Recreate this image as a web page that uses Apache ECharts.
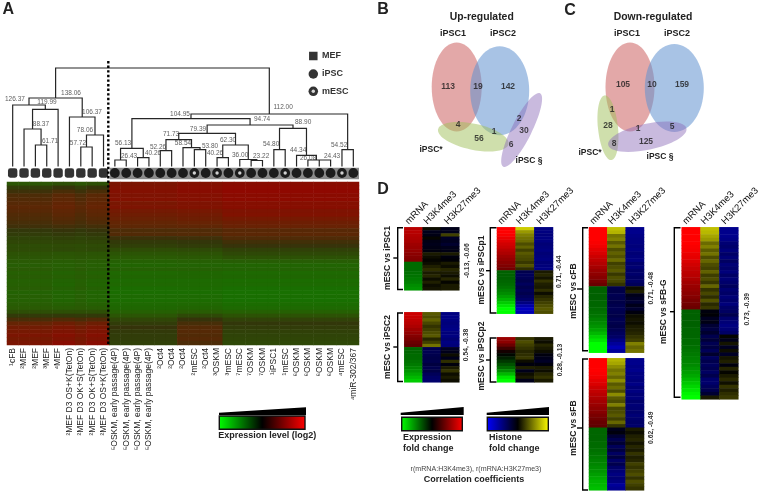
<!DOCTYPE html>
<html><head><meta charset="utf-8">
<script src="https://cdn.jsdelivr.net/npm/echarts@6/dist/echarts.min.js"></script>
<style>html,body{margin:0;padding:0;background:#fff}#c{width:760px;height:504px}</style>
</head><body><div id="c"></div>
<script>
// ---------- Panel A data ----------
const sampleLabels = ['¹cFB','²MEF','²MEF','³MEF','⁴MEF','²MEF D3 OS+K(TetOn)','²MEF D3 OK+S(TetOn)','²MEF D3 OK+S(TetOn)','²MEF D3 OS+K(TetOn)',
 '⁵OSKM, early passage(4P)','⁵OSKM, early passage(4P)','⁵OSKM, early passage(4P)','⁵OSKM, early passage(4P)',
 '²Oct4','²Oct4','²Oct4','²mESC','²Oct4','³OSKM','³mESC','⁷mESC','⁷OSKM','⁷OSKM','¹iPSC1','¹mESC','⁶OSKM','⁶OSKM','⁶OSKM','⁶OSKM','⁴mESC','⁴miR-302/367'];
const sampleKinds = ['s','s','s','s','s','s','s','s','s','c','c','c','c','c','c','c','e','c','e','c','e','c','c','c','e','c','c','c','c','e','c'];
// merge: id, left child, right child, drawn level
const dendroMerges = [['a',2,3,35],['b',1,'a',51],['c','b',4,70.7],['d',0,'c',75],['e',6,7,33],['f','e',8,45],['g',5,'f',63],['h','d','g',82],
 ['i',9,10,20],['j',11,12,22.3],['k','i','j',31.7],['l',13,14,29.3],['n',16,17,30.3],['o',15,'n',32.3],['m','l','o',40.3],
 ['r',18,19,22.3],['t',21,22,19.5],['s',20,'t',20.5],['q','r','s',35],['p','m','q',46.7],
 ['z',27,28,20],['y',26,'z',20],['x',25,'y',24.7],['w',23,24,30.3],['v','w','x',51.7],['u','p','v',55],['aa','k','u',61.3],
 ['ab',29,30,30.3],['ac','aa','ab',66],['root','h','ac',112]];
const dendroLabels = [['126.37',0.2,81],['119.99',3.02,78],['138.06',5.14,87],['106.37',6.99,68],['88.37',2.49,56],['78.06',6.37,50],['61.71',3.29,39],['57.72',5.75,37],
 ['186.57',13.86,117],['104.95',14.74,66],['56.13',9.72,37],['26.43',10.25,24],['40.26',12.36,27],['52.26',12.8,33],['71.73',13.95,46],['58.54',15.0,37],
 ['53.80',17.38,34],['79.39',16.32,51],['94.74',21.96,61],['88.90',25.58,58],['112.00',23.82,73],['62.30',18.97,40],['40.26',17.82,27],['36.00',20.03,25],['23.22',21.88,24],
 ['54.80',22.76,36],['44.34',25.14,30],['26.08',26.02,22],['24.43',28.13,24],['54.52',28.75,35]];
// row profiles of the expression heat map, per sample group
const mefA = [-.45,-.12,.1,.25,.3,.35,.4,.36,.3,.26,.2,.12,-.04,-.1,-.2,-.24,-.32,-.3,-.4,-.44,-.5,-.56,-.5,-.6,-.54,-.62,-.6,-.55,-.66,-.6,-.62,-.55,-.5,-.34,-.08,.22,.5,.64,.7,.76,.7,.76];
const mefB = [-.35,.02,.22,.38,.42,.46,.5,.44,.4,.34,.28,.16,.02,-.06,-.16,-.22,-.3,-.28,-.42,-.46,-.54,-.6,-.56,-.66,-.6,-.68,-.7,-.64,-.72,-.68,-.7,-.62,-.54,-.36,-.06,.3,.6,.74,.78,.86,.8,.92];
const oskA = [.76,.82,.86,.8,.84,.74,.78,.68,.62,.56,.48,.42,.26,.3,.08,-.06,-.14,-.3,-.42,-.5,-.62,-.7,-.62,-.76,-.72,-.8,-.76,-.84,-.86,-.8,-.84,-.78,-.74,-.62,-.44,-.24,-.1,.02,-.06,-.1,-.12,-.16];
const oskB = [.84,.9,.92,.86,.88,.8,.82,.72,.66,.6,.52,.44,.28,.32,.12,-.02,-.1,-.28,-.4,-.48,-.6,-.68,-.62,-.74,-.72,-.8,-.78,-.82,-.86,-.8,-.82,-.76,-.7,-.54,-.28,.02,.2,.32,.34,.3,.34,.26];
const oskC = [.92,.98,1,.94,.96,.88,.9,.8,.82,.7,.6,.54,.36,.4,.28,.14,.04,-.16,-.26,-.38,-.56,-.7,-.66,-.78,-.74,-.84,-.8,-.88,-.92,-.88,-.9,-.84,-.78,-.62,-.4,-.18,-.04,-.1,-.16,-.2,-.22,-.26];
const columnProfile = [mefA,mefA,mefA,mefA,mefB,mefB,mefA,mefB,mefB,oskA,oskA,oskA,oskA,oskA,oskA,oskB,oskB,oskB,oskB,oskC,oskC,oskC,oskC,oskC,oskC,oskC,oskC,oskC,oskC,oskC,oskC];

// ---------- Panel B / C data ----------
const vennUpEllipses = [[456.7,87,25,44.5,0],[499.7,90.7,29.5,44.5,0],[473.3,136.7,36,13,-12],[521.7,130,10,41,-26.6]];
const vennDownEllipses = [[630,87,24.5,44.5,0],[674.3,88,29.5,44,0],[608,127.7,10,32.5,6],[647.3,136.7,40,13,12]];
const vennUpCounts = [['113',448,87],['19',478,87],['142',508,87],['4',458,125],['56',479,139],['1',494,132],['2',519,119],['30',524,131],['6',511,145]];
const vennDownCounts = [['105',623,85],['10',652,85],['159',682,85],['1',612,110],['28',608,126],['1',638,129],['5',672,127],['8',614,144],['125',646,142]];

// ---------- Panel D data ----------
const histoneMarks = ['mRNA','H3K4me3','H3K27me3'];
const iPSC1m=[.72,.72,.7,.68,.66,.62,.6,.58,.55,.52,.5,-.42,-.42,-.42,-.44,-.45,-.48,-.5,-.55,-.58];
const iPSC1k4=[.05,-.1,-.08,.02,-.08,-.1,-.08,-.05,.1,.05,.02,.05,.12,.18,.1,.15,.05,.12,.05,.08];
const iPSC1k27=[-.1,-.1,.25,-.15,-.12,-.18,-.1,-.08,.1,-.05,-.02,.1,.05,.15,.1,.05,.15,.02,.1,.1];
const iPSC2m=[.8,.78,.75,.72,.68,.62,.58,.52,.48,.42,.38,-.4,-.4,-.42,-.42,-.45,-.48,-.52,-.58,-.65,-.72,-.8];
const iPSC2k4=[.35,.3,.38,.28,.2,.25,.3,.35,.15,.25,.45,-.3,-.32,-.3,-.28,-.3,-.25,-.3,-.28,-.35,-.4,-.42];
const iPSC2k27=[-.5,-.52,-.5,-.48,-.5,-.52,-.48,-.5,-.45,-.5,-.48,-.15,-.1,.05,-.1,.18,-.05,.1,.2,.05,.1,.05];
const iPSCp1m=[1,1,.98,.92,.88,.82,.78,.72,.68,.62,.58,.54,.5,.45,-.38,-.38,-.38,-.4,-.42,-.45,-.5,-.55,-.62,-.7,-.8,-.9,-1,-1];
const iPSCp1k4=[.8,.6,.5,.45,.42,.3,.38,.25,.35,.3,.28,.22,.32,.18,-.3,-.35,-.33,-.3,-.36,-.3,-.34,-.3,-.35,-.4,-.5,-.65,-.75,-.7];
const iPSCp1k27=[-.5,-.5,-.48,-.5,-.5,-.46,-.48,-.5,-.46,-.48,-.5,-.46,-.48,-.5,.1,.15,.08,.2,.12,.1,.18,.05,.15,.2,.25,.3,.35,.3];
const iPSCp2m=[.6,.55,.42,.25,.08,-.03,-.12,-.22,-.32,-.42,-.55,-.72,-.9,-1];
const iPSCp2k4=[.2,.3,.25,.2,.15,.18,.22,.05,-.05,.12,-.1,.05,.1,-.1];
const iPSCp2k27=[.1,.05,.15,.1,.05,-.05,-.1,-.15,-.05,.1,.05,.15,.2,.1];
const cFBm=[1,1,1,1,.98,.95,.9,.85,.8,.75,.7,.65,.6,.56,.52,.48,.42,-.38,-.38,-.38,-.38,-.4,-.4,-.42,-.44,-.46,-.5,-.54,-.58,-.64,-.72,-.82,-.9,-1,-1,-1];
const cFBk4=[.75,.7,.45,.5,.35,.45,.3,.38,.32,.42,.25,.3,.35,.22,.3,.28,.2,-.3,-.28,-.32,-.3,-.28,-.3,-.32,-.3,-.28,-.32,-.3,-.28,-.32,-.36,-.4,-.5,-.6,-.7,-.6];
const cFBk27=[-.55,-.55,-.52,-.5,-.5,-.48,-.5,-.46,-.48,-.5,-.42,-.45,-.4,-.42,-.38,-.4,-.35,.05,.12,-.1,-.15,-.2,-.1,-.18,-.05,.05,.08,.05,.1,.12,.15,.2,.25,.5,.4,.45];
const sFBm=[1,1,1,1,.98,.95,.9,.86,.8,.76,.72,.68,.64,.6,.56,.52,.48,.44,.4,.38,-.4,-.4,-.4,-.4,-.42,-.42,-.44,-.46,-.48,-.5,-.52,-.55,-.58,-.62,-.66,-.7,-.72,-.75];
const sFBk4=[.7,.65,.55,.45,.5,.4,.55,.35,.42,.3,.55,.35,.3,.5,.28,.3,.35,.25,.4,.2,-.1,-.05,-.2,-.3,-.2,-.35,-.25,-.38,-.25,-.4,-.3,-.4,-.45,-.5,-.45,-.5,-.6,-.55];
const sFBk27=[-.55,-.55,-.52,-.55,-.5,-.5,-.48,-.52,-.46,-.5,-.46,-.48,-.42,-.46,-.44,-.42,-.46,-.42,-.4,-.42,.1,.05,.12,.15,.08,.15,.1,.2,.12,.15,.25,.2,.25,.3,.2,.3,.25,.2];
const sFBGm=[1,1,1,1,1,.98,.96,.92,.9,.86,.82,.78,.74,.72,.68,.64,.6,.58,.55,.52,.48,.45,.42,-.38,-.38,-.38,-.38,-.38,-.4,-.4,-.4,-.42,-.42,-.44,-.46,-.48,-.5,-.52,-.54,-.58,-.62,-.66,-.72,-.78,-.84,-.9,-.96,-1];
const sFBGk4=[.75,.72,.65,.6,.42,.5,.36,.45,.3,.4,.3,.26,.38,.24,.3,.22,.4,.2,.28,.18,.32,.16,.22,-.05,-.02,-.12,-.08,-.2,-.25,-.18,-.3,-.22,-.32,-.26,-.34,-.18,-.36,-.3,-.36,-.32,-.38,-.3,-.42,-.42,-.36,-.3,-.2,.1];
const sFBGk27=[-.55,-.55,-.55,-.52,-.45,-.42,-.48,-.4,-.46,-.38,-.46,-.42,-.48,-.4,-.46,-.42,-.36,-.44,-.4,-.46,-.42,-.48,-.4,-.38,-.3,-.42,-.46,-.5,-.46,-.4,.02,-.1,.08,-.12,.05,-.15,.08,.12,-.05,.14,.02,.1,.16,.06,.2,.12,.18,.22];

// ---------- layout helpers ----------
const FONT='"Liberation Sans", Arial, sans-serif';
const grids=[], xAxes=[], yAxes=[], series=[], visualMaps=[], graphics=[];
function addGrid(g,x,y){
  const i=grids.length; grids.push(g);
  xAxes.push(Object.assign({gridIndex:i,show:false},x));
  yAxes.push(Object.assign({gridIndex:i,show:false},y));
  return i;
}
function txt(text,x,y,font,fill,opt){
  graphics.push({type:'text',x,y,z:50,rotation:(opt&&opt.rot)||0,
    style:{text,font:font+' '+FONT,fill:fill||'#222',align:(opt&&opt.align)||'center',verticalAlign:'middle'}});
}
function poly(points,fill){graphics.push({type:'polygon',z:40,shape:{points},style:{fill}});}
function bar(x,y,w,h,stops){
  graphics.push({type:'rect',z:40,shape:{x,y,width:w,height:h},
    style:{stroke:'#111',lineWidth:1.4,fill:new echarts.graphic.LinearGradient(0,0,1,0,stops.map((c,i)=>({offset:i/(stops.length-1),color:c})))}});
}
function bracket(x,y0,y1,inner,outer,mid){
  graphics.push({type:'polyline',z:40,shape:{points:[[inner,y0],[x,y0],[x,y1],[inner,y1]]},style:{stroke:'#000',lineWidth:1.4,fill:null}});
  graphics.push({type:'line',z:40,shape:{x1:outer,y1:mid,x2:x,y2:mid},style:{stroke:'#000',lineWidth:1.4}});
}

// ---------- Panel A: heat map ----------
const hmA=addGrid({left:7,top:182,width:352,height:163},
  {show:true,type:'category',data:sampleLabels,axisLine:{show:false},axisTick:{show:false},
   axisLabel:{rotate:90,interval:0,fontSize:8.5,color:'#222',margin:3,fontFamily:FONT}},
  {type:'category',inverse:true,data:mefA.map((_,i)=>i)});
const aData=[];
columnProfile.forEach((p,c)=>p.forEach((v,r)=>aData.push([c,r,v])));
visualMaps.push({show:false,type:'continuous',seriesIndex:0,min:-1,max:1,dimension:2,
  inRange:{color:['#147400','#2a5a04','#33340a','#652404','#8f0800']}});
series.push({type:'heatmap',xAxisIndex:hmA,yAxisIndex:hmA,data:aData,silent:true,progressive:0,animation:false});

// ---------- Panel A: dendrogram ----------
const den=addGrid({left:7,top:66,width:352,height:114},
  {type:'value',min:-.5,max:30.5},{type:'value',min:0,max:114});
const LEAF=14, pos={}, lineData=[];
function nodePos(k){return typeof k==='number'?[k,LEAF]:pos[k];}
dendroMerges.forEach(([id,l,r,h])=>{
  const a=nodePos(l), b=nodePos(r);
  pos[id]=[(a[0]+b[0])/2,h];
  lineData.push(a,[a[0],h],[b[0],h],b,[null,null]);
});
series.push({type:'line',xAxisIndex:den,yAxisIndex:den,data:[[8.55,6.6],[30.5,6.6]],showSymbol:false,silent:true,animation:false,z:1,lineStyle:{color:'#8a8a8a',width:11.5,cap:'butt'}});
series.push({type:'line',xAxisIndex:den,yAxisIndex:den,data:lineData,showSymbol:false,silent:true,animation:false,connectNulls:false,z:2,
  lineStyle:{color:'#262626',width:1.2,cap:'square',join:'miter'}});
const byKind=k=>sampleKinds.map((s,i)=>s===k?[i,7]:null).filter(Boolean);
series.push({type:'scatter',xAxisIndex:den,yAxisIndex:den,data:byKind('s'),symbol:'roundRect',symbolSize:9.4,itemStyle:{color:'#000'},z:3,silent:true,animation:false});
series.push({type:'scatter',xAxisIndex:den,yAxisIndex:den,data:byKind('c').concat(byKind('e')),symbol:'circle',symbolSize:9.8,itemStyle:{color:'#000'},z:3,silent:true,animation:false});
series.push({type:'scatter',xAxisIndex:den,yAxisIndex:den,data:byKind('e'),symbol:'circle',symbolSize:3.4,itemStyle:{color:'#fff'},z:5,silent:true,animation:false});
series.push({type:'scatter',xAxisIndex:den,yAxisIndex:den,data:dendroLabels.map(d=>[d[1],d[2],d[0]]),symbolSize:0,silent:true,animation:false,z:6,
  label:{show:true,position:'inside',formatter:p=>p.value[2],fontSize:6.5,color:'#333',fontFamily:FONT}});

// ---------- overlay grid in page units (venns, legend marks) ----------
const ov=addGrid({left:0,top:0,width:760,height:504},{type:'value',min:0,max:760},{type:'value',min:0,max:504,inverse:true});
const vennColors=['rgba(204,96,96,.55)','rgba(96,146,208,.55)','rgba(160,192,90,.5)','rgba(140,108,184,.47)'];
function vennSeries(e){series.push({type:'custom',xAxisIndex:ov,yAxisIndex:ov,data:e,silent:true,animation:false,clip:false,
  renderItem(p,api){const c=api.coord([api.value(0),api.value(1)]);
    return {type:'ellipse',x:c[0],y:c[1],rotation:api.value(4)*Math.PI/180,shape:{cx:0,cy:0,rx:api.value(2),ry:api.value(3)},style:{fill:vennColors[p.dataIndex]}};}});}
vennSeries(vennUpEllipses); vennSeries(vennDownEllipses);
series.push({type:'scatter',xAxisIndex:ov,yAxisIndex:ov,data:vennUpCounts.concat(vennDownCounts).map(d=>[d[1],d[2],d[0]]),symbolSize:0,silent:true,animation:false,z:8,
  label:{show:true,position:'inside',formatter:p=>p.value[2],fontSize:8.5,fontWeight:'bold',color:'#1c1c1c',fontFamily:FONT}});
series.push({type:'scatter',xAxisIndex:ov,yAxisIndex:ov,data:[[313.3,56]],symbol:'rect',symbolSize:8.5,itemStyle:{color:'#000'},silent:true,animation:false});
series.push({type:'scatter',xAxisIndex:ov,yAxisIndex:ov,data:[[313.3,74],[313.3,91.3]],symbol:'circle',symbolSize:9.5,itemStyle:{color:'#000'},silent:true,animation:false});
series.push({type:'scatter',xAxisIndex:ov,yAxisIndex:ov,data:[[313.3,91.3]],symbol:'circle',symbolSize:3.4,itemStyle:{color:'#fff'},z:5,silent:true,animation:false});

// ---------- Panel D heat maps ----------
const exprIdx=[], histIdx=[];
function panel(left,top,w,h,m,k4,k27,labels){
  const g=addGrid({left,top,width:w,height:h},
    {type:'category',data:histoneMarks},
    {type:'category',inverse:true,data:m.map((_,i)=>i)});
  exprIdx.push(series.length);
  series.push({type:'heatmap',xAxisIndex:g,yAxisIndex:g,data:m.map((v,r)=>[0,r,v]),silent:true,animation:false,progressive:0});
  histIdx.push(series.length);
  const d=[]; k4.forEach((v,r)=>d.push([1,r,v])); k27.forEach((v,r)=>d.push([2,r,v]));
  series.push({type:'heatmap',xAxisIndex:g,yAxisIndex:g,data:d,silent:true,animation:false,progressive:0});
  if(labels) histoneMarks.forEach((t,i)=>txt(t,left+[2.6,21,41.5][i],top-4.5,'9.5px','#111',{rot:Math.PI/4,align:'left'}));
}
panel(404.3,227.3,55,63,iPSC1m,iPSC1k4,iPSC1k27,true);
panel(404.3,312.3,55,70,iPSC2m,iPSC2k4,iPSC2k27,false);
panel(497,227.3,56,86.4,iPSCp1m,iPSCp1k4,iPSCp1k27,true);
panel(497,337.3,56,45,iPSCp2m,iPSCp2k4,iPSCp2k27,false);
panel(589,227.3,55,125.4,cFBm,cFBk4,cFBk27,true);
panel(589,358.3,55,132,sFBm,sFBk4,sFBk27,false);
panel(681.7,227.3,56.6,172,sFBGm,sFBGk4,sFBGk27,true);
visualMaps.push({show:false,type:'continuous',seriesIndex:exprIdx,min:-1,max:1,dimension:2,inRange:{color:['#00ff00','#000000','#ff0000']}});
visualMaps.push({show:false,type:'continuous',seriesIndex:histIdx,min:-1,max:1,dimension:2,inRange:{color:['#0000ff','#000000','#ffff00']}});

// ---------- annotations ----------
graphics.push({type:'line',z:60,shape:{x1:108.3,y1:61,x2:108.3,y2:345},style:{stroke:'#000',lineWidth:2.4,lineDash:[2.4,2.2]}});
['A','B','C','D'].forEach((t,i)=>txt(t,[8.3,383,570,383][i],[10,10,10.7,190][i],'bold 16px'));
txt('MEF',322,56,'bold 9px','#333',{align:'left'});
txt('iPSC',322,74,'bold 9px','#333',{align:'left'});
txt('mESC',322,91.5,'bold 9px','#333',{align:'left'});
txt('Up-regulated',481.7,17,'bold 10.4px');
txt('iPSC1',453,34,'bold 9px'); txt('iPSC2',503,34,'bold 9px');
txt('iPSC*',431,150,'bold 8.5px'); txt('iPSC §',529,161,'bold 8.5px');
txt('Down-regulated',653,17,'bold 10.4px');
txt('iPSC1',627,34,'bold 9px'); txt('iPSC2',677,34,'bold 9px');
txt('iPSC*',590,153,'bold 8.5px'); txt('iPSC §',660,157,'bold 8.5px');
const rot={rot:Math.PI/2};
[['mESC vs iPSC1',387.3,258],['mESC vs iPSC2',387.3,347],['mESC vs iPSCp1',482,270],['mESC vs iPSCp2',482,356],['mESC vs cFB',573.3,291],['mESC vs sFB',573.3,428],['mESC vs sFB-G',663.3,311.7]]
  .forEach(d=>txt(d[0],d[1],d[2],'bold 8.5px','#222',rot));
[['-0.13, -0.06',467.3,260.7],['0.54, -0.38',466,345],['0.71, -0.44',559.3,271.7],['0.28, -0.13',560,360],['0.71, -0.48',651,288.3],['0.62, -0.49',651,427.7],['0.73, -0.39',746.7,309.3]]
  .forEach(d=>txt(d[0],d[1],d[2],'bold 6.8px','#333',rot));
bracket(397.7,227.8,289.5,403,393.3,258);
bracket(397.7,313,381.5,403,393.3,347);
bracket(490.3,227.8,313,496.5,486,270.7);
bracket(490.3,338,382,496.5,486,360);
bracket(582.7,227.8,350.7,588,577,289);
bracket(582.7,359,490,588,577,428);
bracket(674.3,227.8,397.3,680.5,670,311.7);
poly([[219,412.7],[306,407.3],[306,415],[219,415]],'#000');
bar(219.3,416,85.7,13.3,['#00ff00','#000000','#ff0000']);
txt('Expression level (log2)',267.3,435.5,'bold 9px');
poly([[400.7,412.7],[463.7,407],[463.7,415],[400.7,415]],'#000');
bar(401.7,417.3,60.6,13.4,['#00ff00','#000000','#ff0000']);
poly([[486.7,412.7],[549,407],[549,415],[486.7,415]],'#000');
bar(487.3,417.3,61,13.4,['#0000ff','#000000','#ffff00']);
txt('Expression',403,438,'bold 9px','#222',{align:'left'}); txt('fold change',403,449,'bold 9px','#222',{align:'left'});
txt('Histone',489,438,'bold 9px','#222',{align:'left'}); txt('fold change',489,449,'bold 9px','#222',{align:'left'});
txt('r(mRNA:H3K4me3), r(mRNA:H3K27me3)',476,469.3,'7.1px','#444');
txt('Correlation coefficients',474,480,'bold 9px');

const chart=echarts.init(document.getElementById('c'),null,{renderer:'canvas'});
chart.setOption({animation:false,backgroundColor:'#fff',grid:grids,xAxis:xAxes,yAxis:yAxes,visualMap:visualMaps,series,graphic:{elements:graphics}});
</script></body></html>
